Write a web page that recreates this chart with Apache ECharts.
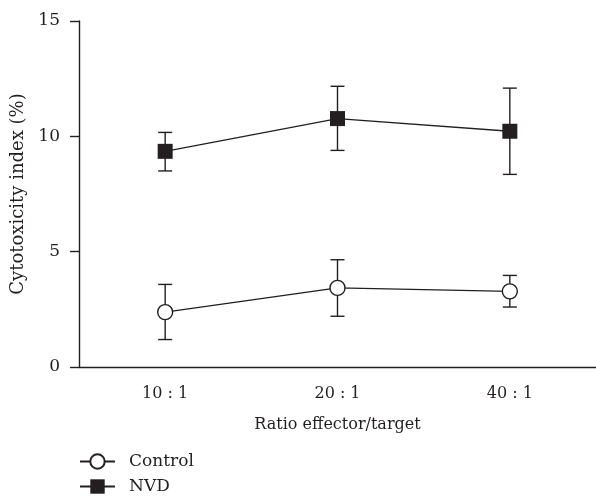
<!DOCTYPE html>
<html>
<head>
<meta charset="utf-8">
<script src="https://cdn.jsdelivr.net/npm/echarts@6/dist/echarts.min.js"></script>
<style>
  html, body { margin: 0; padding: 0; background: #fff; }
  #main { width: 596px; height: 497px; }
</style>
</head>
<body>
<div id="main"></div>
<script>
// data
const categories = ["10 : 1", "20 : 1", "40 : 1"];
const controlMean = [2.38, 3.43, 3.28];
const controlLow = [1.19, 2.2, 2.6];
const controlHigh = [3.58, 4.65, 3.97];
const nvdMean = [9.35, 10.77, 10.22];
const nvdLow = [8.5, 9.39, 8.35];
const nvdHigh = [10.17, 12.17, 12.09];
const yTicks = [0, 5, 10, 15];

const ink = "#231f20";
const font = "DejaVu Serif";

// vertical error bar with caps
function errorBar(params, api) {
  const x = api.value(0);
  const top = api.coord([x, api.value(2)]);
  const bot = api.coord([x, api.value(1)]);
  const hw = 7;
  const style = { stroke: ink, lineWidth: 1.4 };
  return {
    type: "group",
    children: [
      { type: "line", shape: { x1: top[0], y1: top[1], x2: bot[0], y2: bot[1] }, style: style },
      { type: "line", shape: { x1: top[0] - hw, y1: top[1], x2: top[0] + hw, y2: top[1] }, style: style },
      { type: "line", shape: { x1: bot[0] - hw, y1: bot[1], x2: bot[0] + hw, y2: bot[1] }, style: style }
    ]
  };
}

// one legend per entry so they stack
function legendItem(name, top) {
  return {
    left: 79,
    top: top,
    padding: 0,
    itemWidth: 35,
    itemHeight: 18,
    textStyle: { fontFamily: font, fontSize: 17, color: ink, padding: [0, 0, 0, 9] },
    data: [name]
  };
}

let myChart = echarts.init(document.getElementById("main"));
let option = {
  animation: false,
  textStyle: { fontFamily: font, color: ink },
  grid: { left: 79, top: 21, width: 519, height: 346 },
  legend: [legendItem("Control", 453), legendItem("NVD", 478)],
  xAxis: {
    type: "category",
    data: categories,
    boundaryGap: true,
    name: "Ratio effector/target",
    nameLocation: "middle",
    nameGap: 50,
    nameTextStyle: { fontFamily: font, fontSize: 16, color: ink },
    axisLine: { lineStyle: { color: ink, width: 1.4 } },
    axisTick: { alignWithLabel: true, length: 9, lineStyle: { color: ink, width: 1.4 } },
    axisLabel: { margin: 19, fontFamily: font, fontSize: 16, color: ink }
  },
  yAxis: {
    type: "value",
    min: yTicks[0],
    max: yTicks[yTicks.length - 1],
    interval: 5,
    name: "Cytotoxicity index (%)",
    nameLocation: "middle",
    nameGap: 51,
    nameTextStyle: { fontFamily: font, fontSize: 18, color: ink },
    splitLine: { show: false },
    axisLine: { show: true, lineStyle: { color: ink, width: 1.4 } },
    axisTick: { show: true, length: 9, lineStyle: { color: ink, width: 1.4 } },
    axisLabel: { margin: 19, fontFamily: font, fontSize: 17, color: ink }
  },
  series: [
    {
      type: "custom",
      renderItem: errorBar,
      z: 1,
      data: categories.map((c, i) => [i, controlLow[i], controlHigh[i]])
    },
    {
      type: "custom",
      renderItem: errorBar,
      z: 1,
      data: categories.map((c, i) => [i, nvdLow[i], nvdHigh[i]])
    },
    {
      name: "Control",
      type: "line",
      z: 3,
      data: controlMean,
      symbol: "circle",
      symbolSize: 15,
      lineStyle: { color: ink, width: 1.3 },
      itemStyle: { color: "#fff", borderColor: ink, borderWidth: 1.4 }
    },
    {
      name: "NVD",
      type: "line",
      z: 3,
      data: nvdMean,
      symbol: "rect",
      symbolSize: 15,
      lineStyle: { color: ink, width: 1.3 },
      itemStyle: { color: ink, borderColor: ink, borderWidth: 0 }
    }
  ]
};
myChart.setOption(option);
</script>
</body>
</html>
